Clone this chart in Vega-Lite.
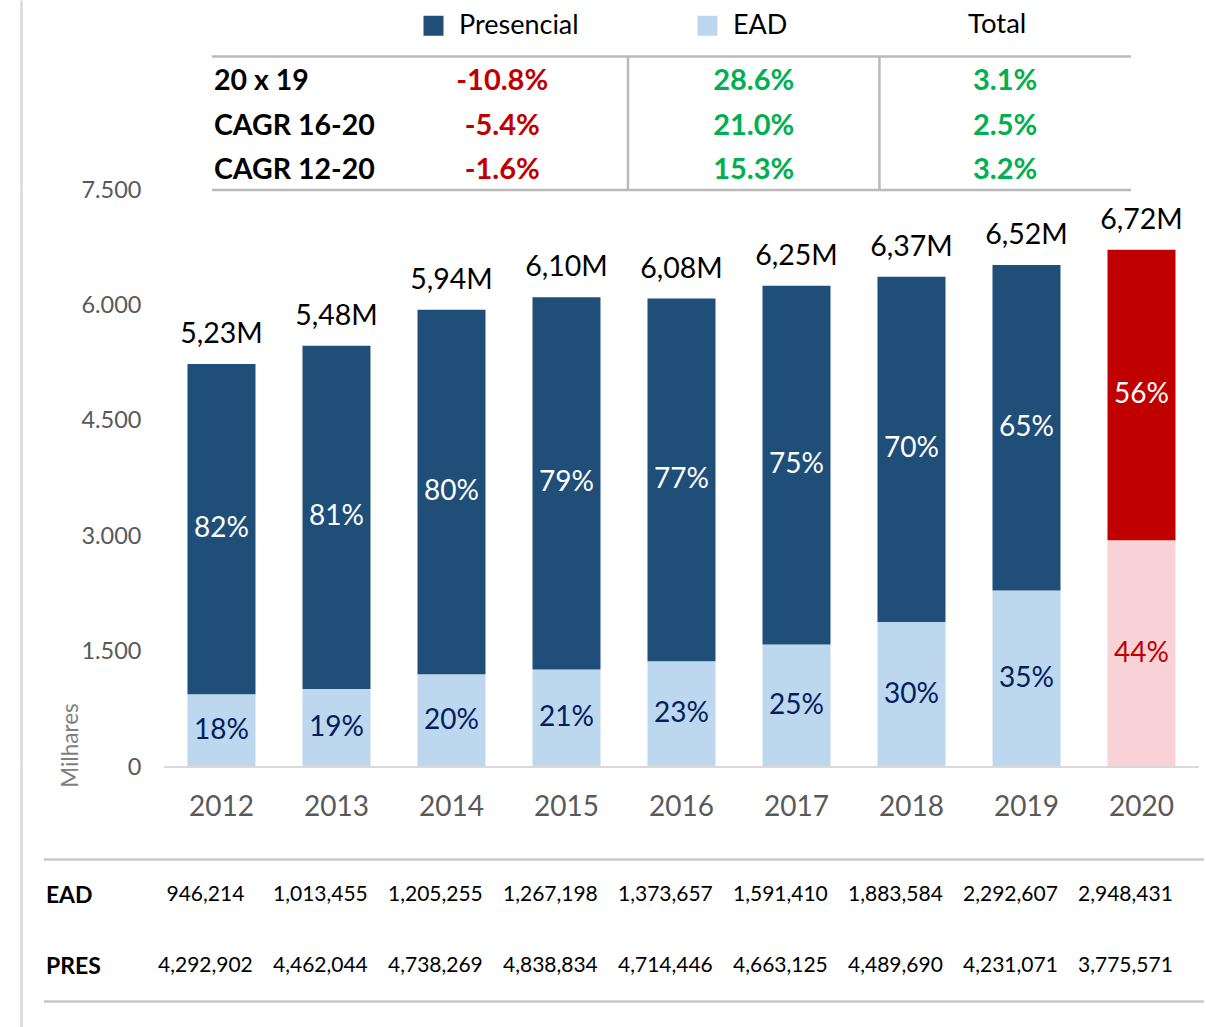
{
  "$schema": "https://vega.github.io/schema/vega-lite/v6.json",
  "padding": {"left": 21, "top": 0, "right": 0, "bottom": 0},
  "spacing": 0,
  "bounds": "flush",
  "config": {"font": "Lato", "view": {"stroke": null}},
  "resolve": {"scale": {"x": "independent", "y": "independent", "color": "independent"}},
  "datasets": {
    "barras": [
      {"ano": "2012", "tipo": "EAD", "serie": "EAD", "valor": 946214, "pct": "18%"},
      {"ano": "2013", "tipo": "EAD", "serie": "EAD", "valor": 1013455, "pct": "19%"},
      {"ano": "2014", "tipo": "EAD", "serie": "EAD", "valor": 1205255, "pct": "20%"},
      {"ano": "2015", "tipo": "EAD", "serie": "EAD", "valor": 1267198, "pct": "21%"},
      {"ano": "2016", "tipo": "EAD", "serie": "EAD", "valor": 1373657, "pct": "23%"},
      {"ano": "2017", "tipo": "EAD", "serie": "EAD", "valor": 1591410, "pct": "25%"},
      {"ano": "2018", "tipo": "EAD", "serie": "EAD", "valor": 1883584, "pct": "30%"},
      {"ano": "2019", "tipo": "EAD", "serie": "EAD", "valor": 2292607, "pct": "35%"},
      {"ano": "2020", "tipo": "EAD", "serie": "EAD 2020", "valor": 2948431, "pct": "44%"},
      {"ano": "2012", "tipo": "PRES", "serie": "Presencial", "valor": 4292902, "pct": "82%"},
      {"ano": "2013", "tipo": "PRES", "serie": "Presencial", "valor": 4462044, "pct": "81%"},
      {"ano": "2014", "tipo": "PRES", "serie": "Presencial", "valor": 4738269, "pct": "80%"},
      {"ano": "2015", "tipo": "PRES", "serie": "Presencial", "valor": 4838834, "pct": "79%"},
      {"ano": "2016", "tipo": "PRES", "serie": "Presencial", "valor": 4714446, "pct": "77%"},
      {"ano": "2017", "tipo": "PRES", "serie": "Presencial", "valor": 4663125, "pct": "75%"},
      {"ano": "2018", "tipo": "PRES", "serie": "Presencial", "valor": 4489690, "pct": "70%"},
      {"ano": "2019", "tipo": "PRES", "serie": "Presencial", "valor": 4231071, "pct": "65%"},
      {"ano": "2020", "tipo": "PRES", "serie": "Presencial 2020", "valor": 3775571, "pct": "56%"}
    ],
    "totais": [
      {"ano": "2012", "total": 5239116, "rotulo": "5,23M"},
      {"ano": "2013", "total": 5475499, "rotulo": "5,48M"},
      {"ano": "2014", "total": 5943524, "rotulo": "5,94M"},
      {"ano": "2015", "total": 6106032, "rotulo": "6,10M"},
      {"ano": "2016", "total": 6088103, "rotulo": "6,08M"},
      {"ano": "2017", "total": 6254535, "rotulo": "6,25M"},
      {"ano": "2018", "total": 6373274, "rotulo": "6,37M"},
      {"ano": "2019", "total": 6523678, "rotulo": "6,52M"},
      {"ano": "2020", "total": 6724002, "rotulo": "6,72M"}
    ],
    "tabela": [
      {"metrica": "20 x 19", "coluna": "Presencial", "valor": "-10.8%", "sinal": "neg"},
      {"metrica": "CAGR 16-20", "coluna": "Presencial", "valor": "-5.4%", "sinal": "neg"},
      {"metrica": "CAGR 12-20", "coluna": "Presencial", "valor": "-1.6%", "sinal": "neg"},
      {"metrica": "20 x 19", "coluna": "EAD", "valor": "28.6%", "sinal": "pos"},
      {"metrica": "CAGR 16-20", "coluna": "EAD", "valor": "21.0%", "sinal": "pos"},
      {"metrica": "CAGR 12-20", "coluna": "EAD", "valor": "15.3%", "sinal": "pos"},
      {"metrica": "20 x 19", "coluna": "Total", "valor": "3.1%", "sinal": "pos"},
      {"metrica": "CAGR 16-20", "coluna": "Total", "valor": "2.5%", "sinal": "pos"},
      {"metrica": "CAGR 12-20", "coluna": "Total", "valor": "3.2%", "sinal": "pos"}
    ],
    "metricas": [
      {"metrica": "20 x 19"},
      {"metrica": "CAGR 16-20"},
      {"metrica": "CAGR 12-20"}
    ]
  },
  "vconcat": [
    {
      "width": 1184,
      "height": 190,
      "layer": [
        {
          "data": {"name": "tabela"},
          "mark": {"type": "text", "fontSize": 29, "fontWeight": "bold", "baseline": "middle", "dy": 2.5},
          "encoding": {
            "x": {"field": "coluna", "type": "nominal", "scale": {"domain": ["label", "Presencial", "EAD", "Total"], "paddingInner": 0, "paddingOuter": 0.354, "align": 0.584}, "axis": null},
            "y": {"field": "metrica", "type": "nominal", "scale": {"domain": ["20 x 19", "CAGR 16-20", "CAGR 12-20"], "paddingInner": 0, "paddingOuter": 0.6348, "align": 1}, "axis": {"labels": false, "ticks": false, "title": null, "grid": false, "domainColor": "#d9d9d9", "domainWidth": 2.5}},
            "text": {"field": "valor"},
            "color": {"field": "sinal", "type": "nominal", "scale": {"domain": ["neg", "pos"], "range": ["#C00000", "#00B050"]}, "legend": null}
          }
        },
        {
          "data": {"name": "metricas"},
          "mark": {"type": "text", "fontSize": 28.5, "fontWeight": "bold", "baseline": "middle", "align": "left", "dy": 2.5, "dx": 89, "color": "#000000"},
          "encoding": {
            "x": {"datum": "label", "bandPosition": 0},
            "y": {"field": "metrica", "type": "nominal"},
            "text": {"field": "metrica"}
          }
        },
        {
          "data": {"values": [{"cabecalho": "Total"}]},
          "mark": {"type": "text", "fontSize": 27.5, "baseline": "middle", "dx": -8, "dy": -31, "color": "#000000"},
          "encoding": {
            "x": {"datum": "Total"},
            "y": {"datum": "20 x 19", "bandPosition": 0},
            "text": {"field": "cabecalho"}
          }
        },
        {
          "data": {"values": [{}]},
          "mark": {"type": "rule", "color": "#bababa", "strokeWidth": 2.5, "xOffset": 87},
          "encoding": {
            "x": {"datum": "label", "bandPosition": 0},
            "x2": {"datum": "Total", "bandPosition": 1},
            "y": {"datum": "20 x 19", "bandPosition": 0}
          }
        },
        {
          "data": {"values": [{}]},
          "mark": {"type": "rule", "color": "#bababa", "strokeWidth": 2.5, "xOffset": 87},
          "encoding": {
            "x": {"datum": "label", "bandPosition": 0},
            "x2": {"datum": "Total", "bandPosition": 1},
            "y": {"datum": "CAGR 12-20", "bandPosition": 1}
          }
        },
        {
          "data": {"values": [{"coluna": "EAD"}, {"coluna": "Total"}]},
          "mark": {"type": "rule", "color": "#bababa", "strokeWidth": 2.5},
          "encoding": {
            "x": {"field": "coluna", "type": "nominal", "bandPosition": 0},
            "y": {"datum": "20 x 19", "bandPosition": 0},
            "y2": {"datum": "CAGR 12-20", "bandPosition": 1}
          }
        }
      ]
    },
    {
      "width": 1184,
      "height": 577,
      "resolve": {"scale": {"color": "independent"}},
      "layer": [
        {
          "data": {"name": "barras"},
          "mark": {"type": "bar", "width": {"band": 0.5913}},
          "encoding": {
            "x": {"field": "ano", "type": "nominal", "scale": {"domain": ["2012", "2013", "2014", "2015", "2016", "2017", "2018", "2019", "2020"], "paddingInner": 0, "paddingOuter": 0.6478, "align": 0.9597},
              "axis": {"domain": false, "ticks": false, "tickSize": 0, "grid": false, "labelPadding": 40, "labelBaseline": "middle", "labelFontSize": 28, "labelColor": "#595959", "labelAngle": 0, "title": null}},
            "y": {"field": "valor", "type": "quantitative", "scale": {"domain": [0, 7500000], "nice": false},
              "axis": {"values": [0, 1500000, 3000000, 4500000, 6000000, 7500000], "labelExpr": "replace(format(datum.value / 1000, ','), ',', '.')", "ticks": false, "tickSize": 0, "grid": false, "domain": true, "domainColor": "#d9d9d9", "domainWidth": 2.5, "labelPadding": -120, "labelFontSize": 23.5, "labelColor": "#595959", "labelFlush": false, "title": "Milhares", "titleX": 49, "titleY": 555, "titleAngle": -90, "titleAlign": "center", "titleBaseline": "middle", "titleFontSize": 22.5, "titleFontWeight": "normal", "titleColor": "#7f7f7f"}},
            "color": {"field": "serie", "type": "nominal",
              "scale": {"domain": ["EAD", "EAD 2020", "Presencial", "Presencial 2020"], "range": ["#BDD7EE", "#F9D2D8", "#1F4E79", "#C00000"]},
              "legend": {"values": ["Presencial", "EAD"], "orient": "none", "legendX": 399, "legendY": -178, "direction": "horizontal", "title": null, "symbolType": "square", "symbolSize": 400, "symbolStrokeWidth": 0, "labelFontSize": 27, "labelColor": "#000000", "labelOffset": 12, "columnPadding": 115, "padding": 0}},
            "order": {"field": "tipo", "sort": "ascending"}
          }
        },
        {
          "data": {"name": "barras"},
          "mark": {"type": "text", "fontSize": 28, "baseline": "middle"},
          "encoding": {
            "x": {"field": "ano", "type": "nominal"},
            "y": {"field": "valor", "type": "quantitative", "stack": "zero", "bandPosition": 0.5},
            "text": {"field": "pct"},
            "color": {"field": "serie", "type": "nominal", "scale": {"domain": ["EAD", "EAD 2020", "Presencial", "Presencial 2020"], "range": ["#002060", "#C00000", "#FFFFFF", "#FFFFFF"]}, "legend": null},
            "order": {"field": "tipo", "sort": "ascending"}
          }
        },
        {
          "data": {"name": "totais"},
          "mark": {"type": "text", "fontSize": 28.5, "baseline": "middle", "dy": -30, "color": "#000000"},
          "encoding": {
            "x": {"field": "ano", "type": "nominal"},
            "y": {"field": "total", "type": "quantitative"},
            "text": {"field": "rotulo"}
          }
        },
        {
          "data": {"values": [{}]},
          "mark": {"type": "rule", "color": "#d9d9d9", "strokeWidth": 2},
          "encoding": {
            "x": {"datum": "2012", "bandPosition": 0},
            "x2": {"datum": "2020", "bandPosition": 1},
            "y": {"datum": 0}
          }
        }
      ]
    },
    {
      "width": 1184,
      "height": 260,
      "layer": [
        {
          "data": {"name": "barras"},
          "mark": {"type": "text", "fontSize": 21, "baseline": "middle", "color": "#000000"},
          "encoding": {
            "x": {"field": "ano", "type": "nominal", "scale": {"domain": ["label", "2012", "2013", "2014", "2015", "2016", "2017", "2018", "2019", "2020"], "paddingInner": 0, "paddingOuter": 0.1478, "align": 0.35}, "axis": null},
            "y": {"field": "tipo", "type": "nominal", "scale": {"domain": ["EAD", "PRES"], "paddingInner": 0, "paddingOuter": 0.831, "align": 0.784}, "axis": {"labels": false, "ticks": false, "title": null, "grid": false, "domainColor": "#d9d9d9", "domainWidth": 2.5}},
            "text": {"field": "valor", "type": "quantitative", "format": ",d"}
          }
        },
        {
          "data": {"values": [{"tipo": "EAD"}, {"tipo": "PRES"}]},
          "mark": {"type": "text", "fontSize": 23, "fontWeight": "bold", "align": "left", "baseline": "middle", "dx": 13, "dy": 1, "color": "#000000"},
          "encoding": {
            "x": {"datum": "label", "bandPosition": 0},
            "y": {"field": "tipo", "type": "nominal"},
            "text": {"field": "tipo"}
          }
        },
        {
          "data": {"values": [{}]},
          "mark": {"type": "rule", "color": "#c8c8c8", "strokeWidth": 2.5, "xOffset": 11, "x2Offset": 21},
          "encoding": {
            "x": {"datum": "label", "bandPosition": 0},
            "x2": {"datum": "2020", "bandPosition": 1},
            "y": {"datum": "EAD", "bandPosition": 0}
          }
        },
        {
          "data": {"values": [{}]},
          "mark": {"type": "rule", "color": "#c8c8c8", "strokeWidth": 2.5, "xOffset": 11, "x2Offset": 21},
          "encoding": {
            "x": {"datum": "label", "bandPosition": 0},
            "x2": {"datum": "2020", "bandPosition": 1},
            "y": {"datum": "PRES", "bandPosition": 1}
          }
        }
      ]
    }
  ]
}
